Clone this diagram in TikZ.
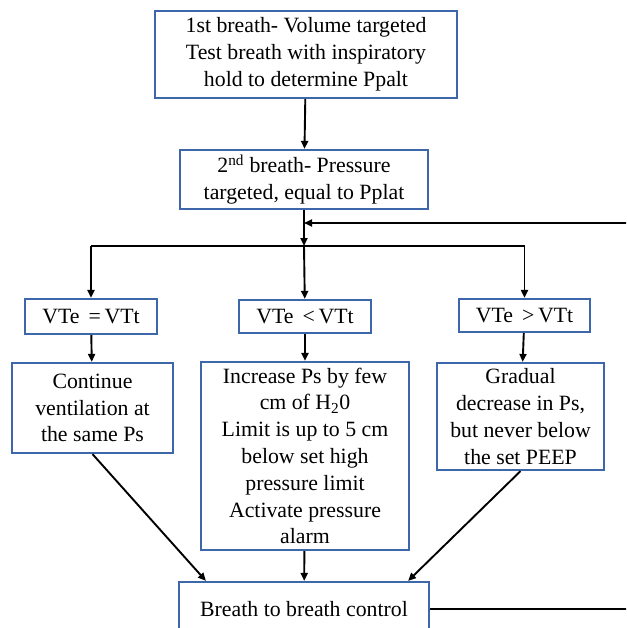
\documentclass[tikz,border=0pt]{standalone}
\usepackage{fontspec}
\setmainfont{Liberation Serif}
\usetikzlibrary{arrows.meta, positioning}

\definecolor{boxblue}{RGB}{62,102,170}

\begin{document}
\begin{tikzpicture}[x=1pt, y=-1pt,
    box/.style={draw=boxblue, line width=2.2pt, fill=white, align=center, inner sep=0pt,
      font=\fontsize{21.8}{26.8}\selectfont},
    conn/.style={line width=1.9pt, -{Triangle[length=8pt, width=7pt]}},
    plain/.style={line width=1.9pt}]
  \useasboundingbox (0,0) rectangle (626,628);
  \clip (0,0) rectangle (626,628);
  % Test breaths
  \node[box, minimum width=302pt, minimum height=87pt] (first) at (306,54.5)
    {1st breath- Volume targeted\\Test breath with inspiratory\\hold to determine Ppalt};
  \node[box, minimum width=248pt, minimum height=59pt] (second) at (304,179.5)
    {2\textsuperscript{nd} breath- Pressure\\targeted, equal to Pplat};
  % Comparison of VTe and VTt
  \node[box, minimum width=132pt, minimum height=35pt] (equal) at (91,316.5) {VTe \,=\,VTt};
  \node[box, minimum width=132pt, minimum height=33pt] (less) at (305,316.5) {VTe \,<\,VTt};
  \node[box, minimum width=131pt, minimum height=33pt] (more) at (524.5,315.5) {VTe \,>\,VTt};
  % Actions
  \node[box, minimum width=161pt, minimum height=90pt] (cont) at (92.5,408)
    {Continue\\ventilation at\\the same Ps};
  \node[box, minimum width=208pt, minimum height=188pt] (incr) at (305,456)
    {Increase Ps by few\\cm of H\textsubscript{2}0\\Limit is up to 5 cm\\below set high\\pressure limit\\Activate pressure\\alarm};
  \node[box, minimum width=167pt, minimum height=107pt] (decr) at (520.5,416.5)
    {Gradual\\decrease in Ps,\\but never below\\the set PEEP};
  % Control loop
  \node[box, minimum width=250pt, minimum height=54pt] (ctrl) at (304,609)
    {Breath to breath control};
  \coordinate (split) at (304,246);
  \coordinate (back) at (640,223);

  \draw[conn] (first) -- (second);
  \draw[conn] (second) -- (split);
  \draw[conn] (back) -- (back -| second.south);
  \draw[plain] (split -| equal.north) -- (split -| more.north);
  \draw[conn] (split -| equal.north) -- (equal);
  \draw[conn] (split) -- (less);
  \draw[conn] (split -| more.north) -- (more);
  \draw[conn] (equal) -- (cont);
  \draw[conn] (less) -- (incr);
  \draw[conn] (more) -- (decr);
  \draw[conn] (cont.south) -- ([xshift=28pt]ctrl.north west);
  \draw[conn] (incr) -- (ctrl);
  \draw[conn] (decr.south) -- ([xshift=-22pt]ctrl.north east);
  \draw[plain] (ctrl.east) -- ++(220,0);
\end{tikzpicture}
\end{document}
